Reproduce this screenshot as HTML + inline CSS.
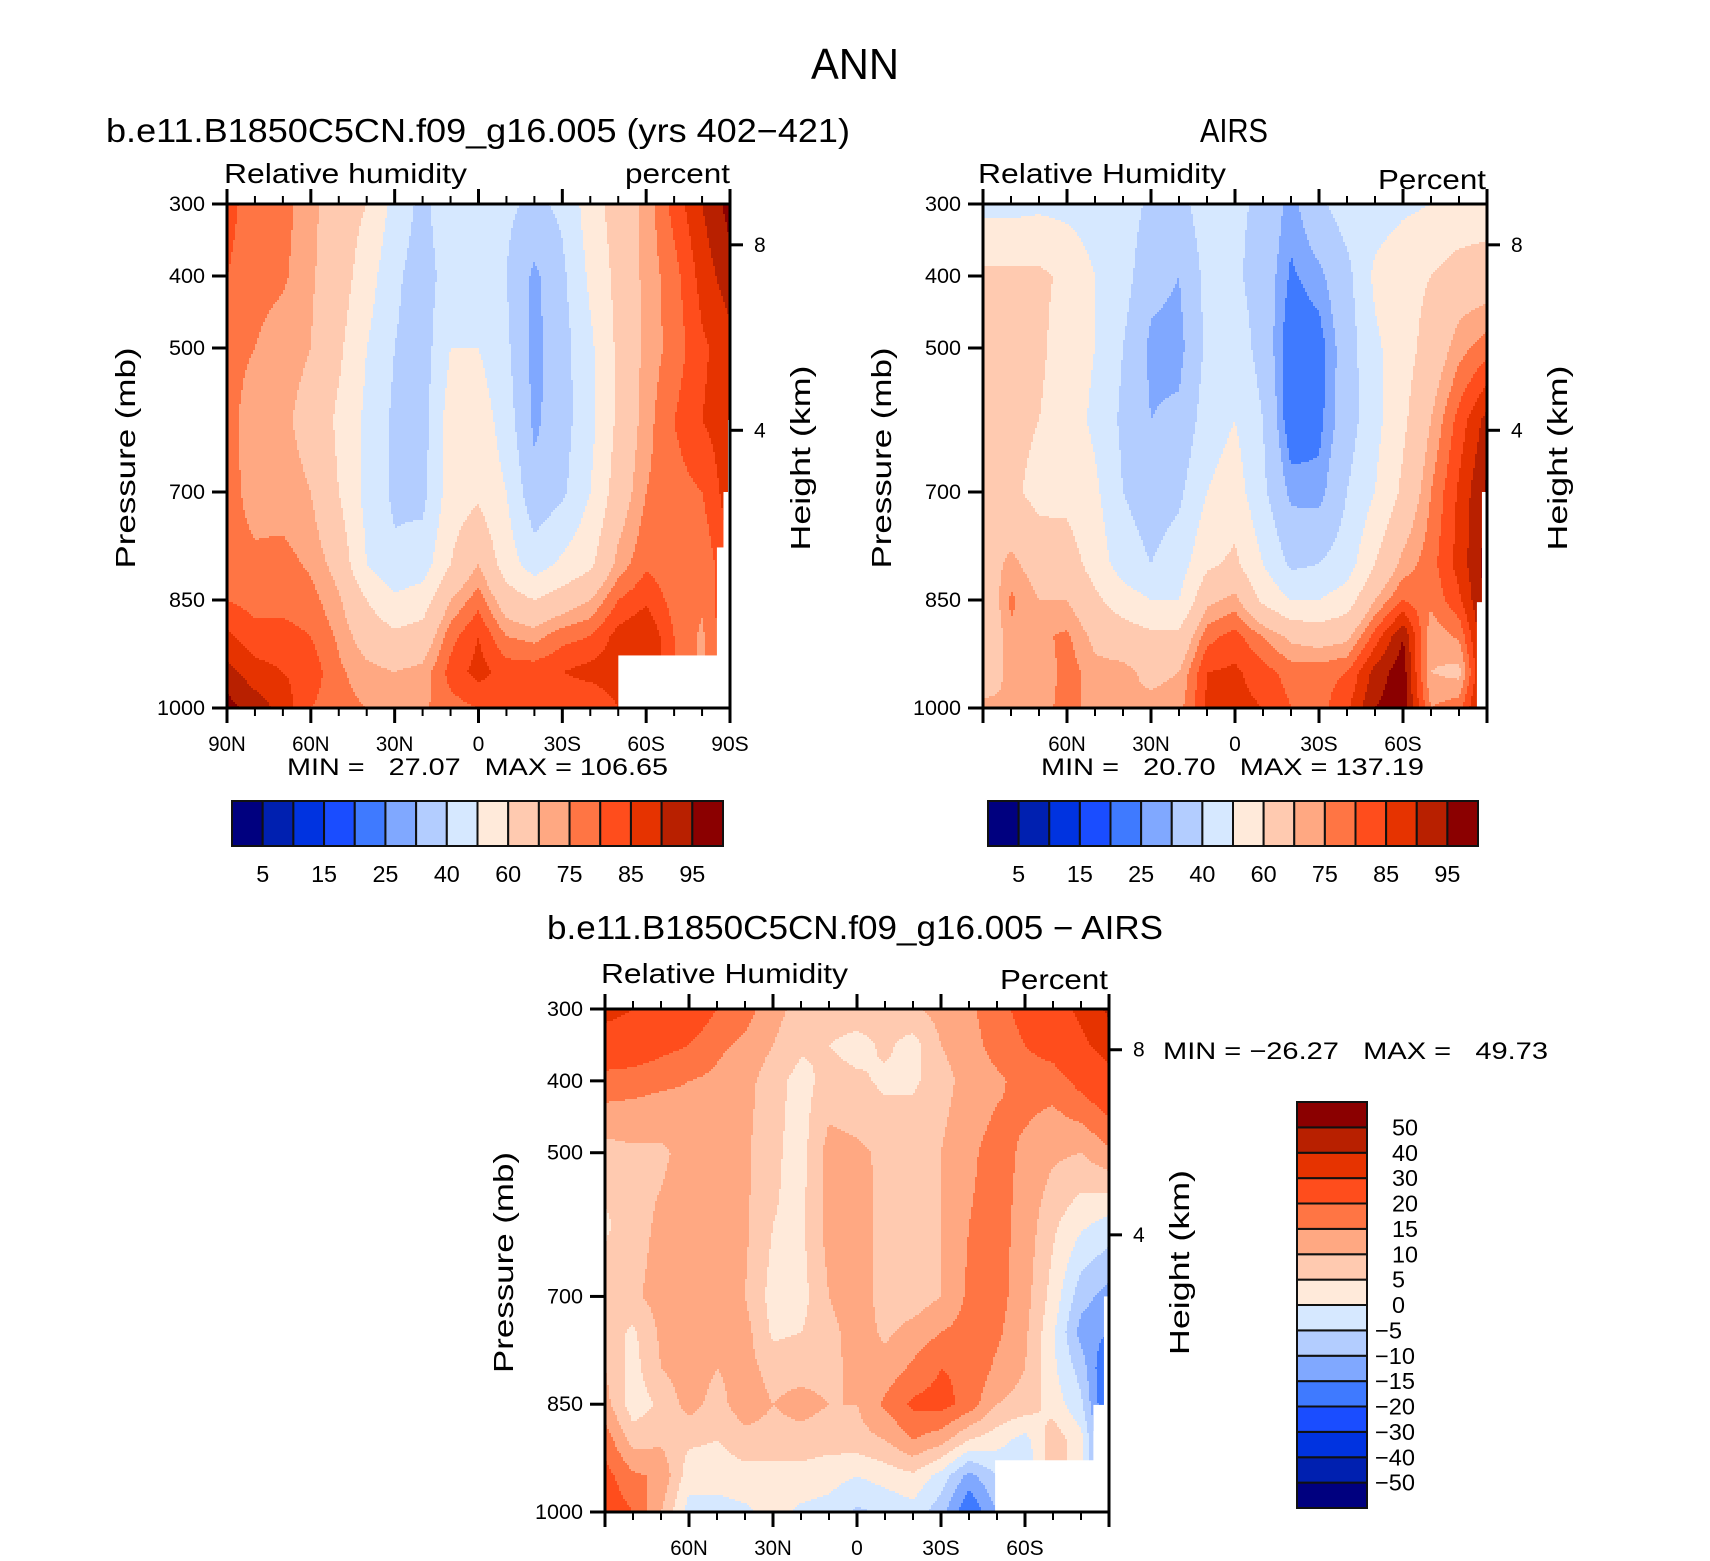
<!DOCTYPE html>
<html><head><meta charset="utf-8"><title>ANN Relative Humidity</title>
<style>
html,body{margin:0;padding:0;background:#fff;}
svg{display:block;font-family:"Liberation Sans",sans-serif;}
</style></head>
<body>
<svg id="chart" width="1710" height="1561" viewBox="0 0 1710 1561" xmlns="http://www.w3.org/2000/svg">
<rect width="1710" height="1561" fill="#fff"/>
<text x="855" y="79" font-size="44" text-anchor="middle" textLength="88" lengthAdjust="spacingAndGlyphs">ANN</text>

<text x="106" y="142" font-size="33" textLength="744" lengthAdjust="spacingAndGlyphs">b.e11.B1850C5CN.f09_g16.005 (yrs 402−421)</text>
<text x="224" y="183" font-size="28" textLength="243" lengthAdjust="spacingAndGlyphs">Relative humidity</text>
<text x="625" y="183" font-size="28" textLength="105" lengthAdjust="spacingAndGlyphs">percent</text>
<text x="287" y="775" font-size="24" textLength="381" lengthAdjust="spacingAndGlyphs" xml:space="preserve">MIN =   27.07   MAX = 106.65</text>

<text x="1234" y="142" font-size="33" text-anchor="middle" textLength="68" lengthAdjust="spacingAndGlyphs">AIRS</text>
<text x="978" y="183" font-size="28" textLength="248" lengthAdjust="spacingAndGlyphs">Relative Humidity</text>
<text x="1378" y="189" font-size="28" textLength="108" lengthAdjust="spacingAndGlyphs">Percent</text>
<text x="1041" y="775" font-size="24" textLength="383" lengthAdjust="spacingAndGlyphs" xml:space="preserve">MIN =   20.70   MAX = 137.19</text>

<text x="547" y="939" font-size="33" textLength="616" lengthAdjust="spacingAndGlyphs">b.e11.B1850C5CN.f09_g16.005 − AIRS</text>
<text x="601" y="983" font-size="28" textLength="247" lengthAdjust="spacingAndGlyphs">Relative Humidity</text>
<text x="1000" y="989" font-size="28" textLength="108" lengthAdjust="spacingAndGlyphs">Percent</text>
<text x="1163" y="1059" font-size="24" textLength="385" lengthAdjust="spacingAndGlyphs" xml:space="preserve">MIN = −26.27   MAX =   49.73</text>

<g id="layer"></g>
</svg>
<script>
// ---------- data ----------
const lats = [90,80,70,60,50,40,30,20,10,0,-10,-20,-30,-40,-50,-60,-70,-80,-90];
const presRH = [300,400,500,600,700,800,850,900,950,1000];
const presDiff = [300,350,400,500,600,700,750,800,850,900,950,1000];
const latTickLabels = ['90N','60N','30N','0','30S','60S','90S'];
const latTickValues = [90,60,30,0,-30,-60,-90];
const presTickValues = [300,400,500,700,850,1000];
const heightTickLabels = ['8','4'];
const heightTickFrac = [0.081,0.449];
const rhLevels = [5,10,15,20,25,30,40,50,60,70,75,80,85,90,95];
const rhLabels = ['5','15','25','40','60','75','85','95'];
const diffLevels = [-50,-40,-30,-20,-15,-10,-5,0,5,10,15,20,30,40,50];
const diffLabels = ['50','40','30','20','15','10','5','0','−5','−10','−15','−20','−30','−40','−50'];
const palette = ['#00007f','#0020b0','#0033e0','#1a4dff','#3f7aff','#80a8ff','#b3cdff','#d6e8ff','#ffeada','#ffcab0','#ffa882','#ff7544','#ff4d1c','#e63300','#b82000','#8b0000'];

const modelRH = [
[82,80,77,77,77,77,80,86,92,97],
[77,77,75,72,73,76,78,82,87,93],
[77,76,72,71,72,77,78,82,85,88],
[72,71,70,68,70,74,77,80,83,80],
[65,65,62,58,60,67,71,74,76,77],
[60,55,50,48,47,50,60,66,72,75],
[47,42,40,38,38,42,52,62,70,73],
[37,35,35,36,37,45,55,64,72,74],
[48,45,50,55,55,60,70,78,82,78],
[50,42,50,56,58,70,78,85,87,80],
[42,40,42,45,50,55,65,75,83,80],
[38,28,27,28,33,45,60,73,83,82],
[42,38,36,36,38,52,65,78,85,80],
[55,52,48,47,50,58,70,80,87,80],
[65,63,62,62,65,72,80,87,88,85],
[72,72,72,73,75,79,84,90,90,90],
[82,78,77,80,78,77,78,80,80,80],
[90,87,84,85,80,76,76,74,74,74],
[97,93,88,88,88,85,85,85,85,85]];

const airsRH = [
[47,62,70,70,62,65,62,60,65,72],
[47,62,65,63,62,72,76,74,72,70],
[48,62,62,60,57,66,70,74,70,74],
[47,58,55,55,57,65,70,76,78,76],
[45,50,50,48,52,56,62,68,72,74],
[45,44,40,38,40,45,55,65,72,70],
[38,33,28,30,35,40,50,62,68,72],
[37,30,27,32,38,45,50,62,70,73],
[45,43,42,45,50,58,68,78,85,86],
[42,42,46,50,55,62,72,82,86,87],
[38,35,36,40,42,50,58,75,82,85],
[27,24,20,20,28,38,50,68,78,80],
[38,28,22,23,27,40,50,66,78,78],
[45,37,35,35,40,45,55,68,80,84],
[45,52,48,47,50,60,70,82,92,95],
[48,57,56,58,62,72,80,95,98,98],
[50,60,64,70,75,78,76,72,70,75],
[52,65,73,82,86,87,84,76,68,78],
[55,65,78,92,96,97,97,97,97,97]];

const diffRH = [
[33,25,18,8,4,8,8,10,12,18,22,24],
[30,25,17,9,8,9,4,3,2,8,16,20],
[25,22,16,9,11,12,11,10,6,9,14,10],
[25,20,15,12,13,14,12,13,12,6,2,-2],
[20,16,14,12,12,14,12,10,8,5,2,-2],
[17,14,12,11,11,10,12,12,13,8,3,-1],
[12,10,7,6,5,3,4,8,10,8,3,2],
[8,6,3,3,4,3,5,8,12,8,3,-1],
[8,5,7,12,12,10,8,8,10,7,2,-2],
[8,3,6,11,13,14,13,12,10,8,0,-6],
[8,6,4,9,8,7,9,12,16,10,2,-4],
[9,3,4,9,8,7,12,16,21,15,4,-2],
[12,10,8,10,10,10,15,20,22,12,-2,-8],
[14,13,12,14,15,16,17,19,18,5,-12,-20],
[18,17,14,17,17,17,16,14,10,2,-5,-10],
[22,20,17,14,13,12,11,10,8,-2,-5,-5],
[26,23,17,11,6,3,1,1,3,8,8,8],
[32,28,22,10,1,-8,-12,-7,-4,2,2,2],
[42,34,26,14,-2,-12,-15,-22,-22,-22,-22,-22]];

// ---------- drawing ----------
const NS = 'http://www.w3.org/2000/svg';
const layer = document.getElementById('layer');
function mk(tag, attrs, parent){
  const e = document.createElementNS(NS, tag);
  for (const k in attrs) e.setAttribute(k, attrs[k]);
  (parent||layer).appendChild(e);
  return e;
}
function levelIndex(v, levels){ let i=0; while(i<levels.length && v>=levels[i]) i++; return i; }
function sample(data, pres, fx, p){
  const u = fx*(lats.length-1);
  let i0 = Math.min(Math.floor(u), lats.length-2); const tx = u-i0;
  let j0 = 0; while (j0 < pres.length-2 && p > pres[j0+1]) j0++;
  const ty = Math.max(0, Math.min(1, (p-pres[j0])/(pres[j0+1]-pres[j0])));
  const a = data[i0][j0]*(1-ty)+data[i0][j0+1]*ty;
  const b = data[i0+1][j0]*(1-ty)+data[i0+1][j0+1]*ty;
  return a*(1-tx)+b*tx;
}

function drawPanel(cfg){
  const {x0,y0,w,h,data,pres,levels,masks,name,edgeLabels} = cfg;
  const g = mk('g',{});
  
  
  const xs = v => x0 + (90 - v)/180*w;
  const ys = p => y0 + (p-300)/700*h;
  const step = 2;
  for (let py=0; py<h; py+=step){
    const hh = Math.min(step, h-py);
    const p = 300 + (py+hh/2)/h*700;
    let runStart = 0, runC = -1;
    let px = 0;
    while (true){
      let c = -1;
      if (px < w){ const fx = Math.min(1,(px+step/2)/w); c = levelIndex(sample(data,pres,fx,p), levels); }
      if (c !== runC){
        if (runC >= 0){
          const r = mk('rect',{x:x0+runStart, y:y0+py, width:Math.min(px,w)-runStart+0.6, height:hh+0.6, fill:palette[runC]}, g);
          
          
        }
        runStart = px; runC = c;
      }
      if (px >= w) break;
      px = Math.min(px+step, w);
    }
  }
  masks.forEach(m=>{
    const mx = x0 + m[0]*w, my = ys(m[1]);
    const r = mk('rect',{x:mx, y:my, width:x0+w-mx, height:y0+h-my, fill:'#fff'}, g);
    
    
  });
  const f = mk('rect',{x:x0,y:y0,width:w,height:h,fill:'none',stroke:'#000','stroke-width':3}, g);
  
  
  for (let v=90; v>=-90; v-=10){
    const major = v%30===0; const L = major?15:8; const X = xs(v);
    mk('line',{x1:X,x2:X,y1:y0,y2:y0-L,stroke:'#000','stroke-width':major?3:2}, g);
    mk('line',{x1:X,x2:X,y1:y0+h,y2:y0+h+L,stroke:'#000','stroke-width':major?3:2}, g);
  }
  latTickLabels.forEach((lab,i)=>{
    const v = latTickValues[i];
    if (!edgeLabels && Math.abs(v)===90) return;
    const attrs = {x:xs(v), y:y0+h+43, 'font-size':21, 'text-anchor':'middle'};
    if (lab.length > 1){ attrs.textLength = lab.length*12.5; attrs.lengthAdjust = 'spacingAndGlyphs'; }
    const t = mk('text', attrs, g);
    
    
    t.textContent = lab;
  });
  presTickValues.forEach(p=>{
    const Y = ys(p);
    mk('line',{x1:x0-15,x2:x0,y1:Y,y2:Y,stroke:'#000','stroke-width':3}, g);
    const t = mk('text',{x:x0-22, y:Y+7, 'font-size':21, 'text-anchor':'end', textLength:String(p).length*12, lengthAdjust:'spacingAndGlyphs'}, g);
    
    
    t.textContent = p;
  });
  heightTickLabels.forEach((lab,i)=>{
    const Y = y0 + heightTickFrac[i]*h;
    mk('line',{x1:x0+w,x2:x0+w+13,y1:Y,y2:Y,stroke:'#000','stroke-width':3}, g);
    const t = mk('text',{x:x0+w+24, y:Y+7, 'font-size':21}, g);
    
    
    t.textContent = lab;
  });
  const yl = mk('text',{x:0,y:0,'font-size':28,'text-anchor':'middle',textLength:221,lengthAdjust:'spacingAndGlyphs',transform:`translate(${x0-92},${y0+h/2+2}) rotate(-90)`}, g);
  
  
  yl.textContent = 'Pressure (mb)';
  const hl = mk('text',{x:0,y:0,'font-size':28,'text-anchor':'middle',textLength:185,lengthAdjust:'spacingAndGlyphs',transform:`translate(${x0+w+80},${y0+h/2+2}) rotate(-90)`}, g);
  
  
  hl.textContent = 'Height (km)';
}

function hColorbar(x, y, w, h, labels, name){
  const g = mk('g',{});
  
  
  const bw = w/palette.length;
  palette.forEach((c,i)=>{
    const r = mk('rect',{x:x+i*bw,y:y,width:bw,height:h,fill:c,stroke:'#111','stroke-width':2}, g);
    
    
  });
  labels.forEach((lab,k)=>{
    const t = mk('text',{x:x+(2*k+1)*bw, y:y+h+36, 'font-size':23,'text-anchor':'middle', textLength:lab.length*13, lengthAdjust:'spacingAndGlyphs'}, g);
    
    
    t.textContent = lab;
  });
}
function vColorbar(x, y, w, h, labels, name){
  const g = mk('g',{});
  
  
  const bh = h/palette.length;
  palette.forEach((c,i)=>{
    const r = mk('rect',{x:x,y:y+(palette.length-1-i)*bh,width:w,height:bh,fill:c,stroke:'#111','stroke-width':2}, g);
    
    
  });
  labels.forEach((lab,k)=>{
    const neg = lab.startsWith('−');
    const t = mk('text',{x:x+w+(neg?8:25), y:y+(k+1)*bh+8, 'font-size':23, textLength:(neg?14:0)+(lab.replace('−','').length)*13, lengthAdjust:'spacingAndGlyphs'}, g);
    
    
    t.textContent = lab;
  });
}

drawPanel({x0:227,y0:204,w:503,h:504,data:modelRH,pres:presRH,levels:rhLevels,name:'model',edgeLabels:true,
  masks:[[0.778,927],[0.974,777],[0.987,700],[0.996,600]]});
drawPanel({x0:983,y0:204,w:504,h:504,data:airsRH,pres:presRH,levels:rhLevels,name:'airs',edgeLabels:false,
  masks:[[0.98,853],[0.99,700]]});
drawPanel({x0:605,y0:1009,w:504,h:503,data:diffRH,pres:presDiff,levels:diffLevels,name:'difference',edgeLabels:false,
  masks:[[0.774,928],[0.969,851],[0.99,700]]});

hColorbar(232,801,491,45,rhLabels,'model-colorbar');
hColorbar(988,801,490,45,rhLabels,'airs-colorbar');
vColorbar(1297,1102,70,406,diffLabels,'difference-colorbar');
</script>
</body></html>
